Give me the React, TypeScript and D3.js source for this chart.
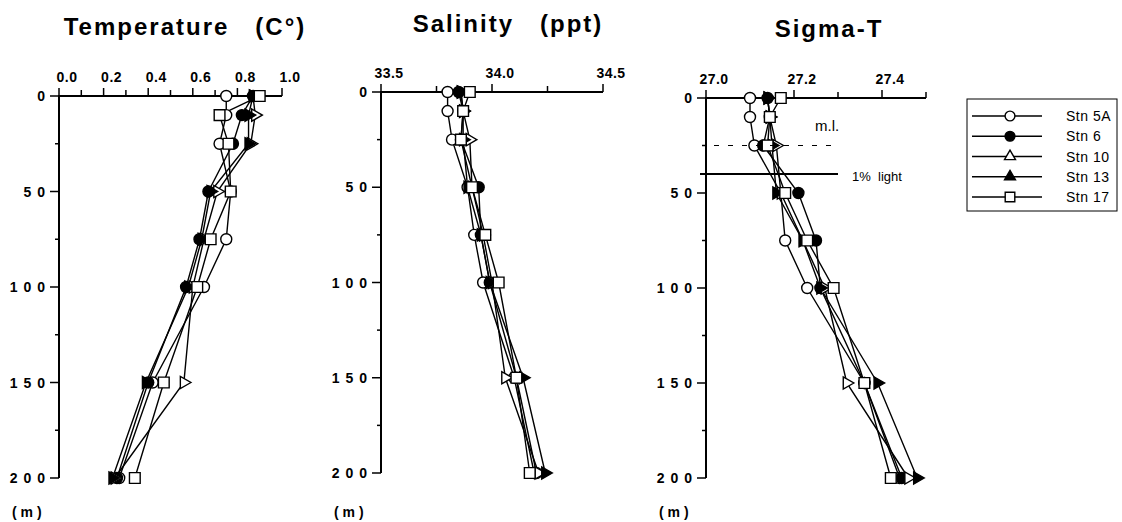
import React, { useEffect, useRef } from 'react';
import * as d3 from 'd3';

// sampling depths (m) and stations
const depths = [0, 10, 25, 50, 75, 100, 150, 200];
const stations = ['Stn 5A', 'Stn 6', 'Stn 10', 'Stn 13', 'Stn 17'];

// depth axis
const depthTicks = [0, 25, 50, 75, 100, 125, 150, 175, 200];
const depthLabelValues = [0, 50, 100, 150, 200];
const depthLabels = ['0', '5 0', '1 0 0', '1 5 0', '2 0 0'];

// temperature (C)
const temp5A = [0.75, 0.75, 0.72, 0.77, 0.75, 0.65, 0.42, 0.27];
const temp6 = [0.87, 0.82, 0.78, 0.67, 0.63, 0.57, 0.40, 0.26];
const temp10 = [0.87, 0.88, 0.86, 0.71, 0.65, 0.60, 0.56, 0.25];
const temp13 = [0.87, 0.85, 0.85, 0.68, 0.64, 0.58, 0.39, 0.24];
const temp17 = [0.90, 0.72, 0.76, 0.77, 0.68, 0.62, 0.47, 0.34];
const tempTicks = [0, 0.1, 0.2, 0.3, 0.4, 0.5, 0.6, 0.7, 0.8, 0.9, 1.0];
const tempLabels = [0, 0.2, 0.4, 0.6, 0.8, 1.0];

// salinity (ppt)
const sal5A = [33.80, 33.80, 33.82, 33.89, 33.92, 33.96, 34.10, 34.19];
const sal6 = [33.85, 33.87, 33.86, 33.94, 33.95, 33.99, 34.11, 34.20];
const sal10 = [33.86, 33.87, 33.90, 33.91, 33.96, 34.00, 34.06, 34.21];
const sal13 = [33.86, 33.87, 33.87, 33.89, 33.95, 33.99, 34.14, 34.24];
const sal17 = [33.90, 33.87, 33.86, 33.91, 33.97, 34.03, 34.11, 34.17];
const salTicks = [33.5, 33.75, 34.0, 34.25, 34.5];
const salLabels = [33.5, 34.0, 34.5];

// sigma-t
const sig5A = [27.10, 27.10, 27.11, 27.17, 27.18, 27.23, 27.36, 27.44];
const sig6 = [27.14, 27.145, 27.13, 27.21, 27.25, 27.26, 27.36, 27.445];
const sig10 = [27.14, 27.145, 27.16, 27.17, 27.22, 27.27, 27.32, 27.46];
const sig13 = [27.14, 27.145, 27.15, 27.16, 27.22, 27.26, 27.39, 27.48];
const sig17 = [27.17, 27.145, 27.14, 27.18, 27.23, 27.29, 27.36, 27.42];
const sigTicks = [27.0, 27.1, 27.2, 27.3, 27.4, 27.5];
const sigLabels = [27.0, 27.2, 27.4];

// annotations on the sigma-t panel
const mixedLayerDepth = 25;
const lightDepth = 40;

const FONT = '"Liberation Sans", Arial, Helvetica, sans-serif';

const panels = [
  { title: 'Temperature   (C°)', titleX: 185, titleY: 35, x0: 59, x1: 282, y0: 96, y1: 478,
    domain: [0, 1], ticks: tempTicks, labels: tempLabels,
    series: [temp5A, temp6, temp10, temp13, temp17] },
  { title: 'Salinity   (ppt)', titleX: 508, titleY: 32, x0: 381, x1: 603, y0: 92, y1: 473,
    domain: [33.5, 34.5], ticks: salTicks, labels: salLabels,
    series: [sal5A, sal6, sal10, sal13, sal17] },
  { title: 'Sigma-T', titleX: 829, titleY: 37, x0: 706, x1: 926, y0: 98, y1: 478,
    domain: [27.0, 27.5], ticks: sigTicks, labels: sigLabels,
    series: [sig5A, sig6, sig10, sig13, sig17] },
];

// marker look per station
const markerStyle = [
  { type: d3.symbolCircle, size: 95, fill: 'white' },
  { type: d3.symbolCircle, size: 95, fill: 'black' },
  { type: d3.symbolTriangle, size: 65, fill: 'white' },
  { type: d3.symbolTriangle, size: 65, fill: 'black' },
  { type: d3.symbolSquare, size: 115, fill: 'white' },
];

function drawPanel(svg, p, idx) {
  const x = d3.scaleLinear().domain(p.domain).range([p.x0, p.x1]);
  const y = d3.scaleLinear().domain([0, 200]).range([p.y0, p.y1]);
  const g = svg.append('g');

  g.append('text')
    .attr('x', p.titleX).attr('y', p.titleY)
    .attr('text-anchor', 'middle')
    .style('font', `bold 24px ${FONT}`)
    .style('letter-spacing', '2px')
    .style('white-space', 'pre')
    .text(p.title);

  // top axis
  g.append('line')
    .attr('x1', p.x0).attr('x2', p.x1).attr('y1', p.y0).attr('y2', p.y0)
    .attr('stroke', 'black').attr('stroke-width', 2);
  g.selectAll('.xt').data(p.ticks).enter().append('line')
    .attr('x1', (d) => x(d)).attr('x2', (d) => x(d))
    .attr('y1', p.y0).attr('y2', (d) => p.y0 - (p.labels.some((l) => Math.abs(l - d) < 1e-6) ? 8 : 6))
    .attr('stroke', 'black').attr('stroke-width', 1.5);
  g.selectAll('.xl').data(p.labels).enter().append('text')
    .attr('x', (d) => x(d) + 8).attr('y', p.y0 - 14)
    .attr('text-anchor', 'middle')
    .style('font', `bold 14px ${FONT}`)
    .style('letter-spacing', '0.5px')
    .text((d) => d3.format('.1f')(d));

  // left depth axis
  g.append('line')
    .attr('x1', p.x0).attr('x2', p.x0).attr('y1', p.y0 - 1).attr('y2', p.y1)
    .attr('stroke', 'black').attr('stroke-width', 2);
  g.selectAll('.yt').data(depthTicks).enter().append('line')
    .attr('x1', p.x0).attr('x2', (d) => p.x0 - (d % 50 === 0 ? 9 : 4))
    .attr('y1', (d) => y(d)).attr('y2', (d) => y(d))
    .attr('stroke', 'black').attr('stroke-width', 1.5);
  g.selectAll('.yl').data(depthLabelValues).enter().append('text')
    .attr('x', p.x0 - 13).attr('y', (d) => y(d) + 5)
    .attr('text-anchor', 'end')
    .style('font', `bold 14px ${FONT}`)
    .style('white-space', 'pre')
    .style('letter-spacing', '1px')
    .text((d, i) => depthLabels[i]);
  g.append('text')
    .attr('x', p.x0 - 47).attr('y', 517)
    .style('font', `bold 14px ${FONT}`)
    .style('white-space', 'pre')
    .text('( m )');

  // profiles
  const line = d3.line().x((d) => x(d[0])).y((d) => y(d[1]));
  p.series.forEach((s) => {
    g.append('path')
      .datum(s.map((v, i) => [v, depths[i]]))
      .attr('d', line)
      .attr('fill', 'none').attr('stroke', 'black').attr('stroke-width', 1.4);
  });
  p.series.forEach((s, si) => {
    const m = markerStyle[si];
    const rot = m.type === d3.symbolTriangle ? 90 : 0;
    g.selectAll(`.m${si}`).data(s).enter().append('path')
      .attr('d', d3.symbol().type(m.type).size(m.size))
      .attr('transform', (d, i) => `translate(${x(d)},${y(depths[i])}) rotate(${rot})`)
      .attr('fill', m.fill).attr('stroke', 'black').attr('stroke-width', 1.4);
  });

  if (idx === 2) {
    g.append('line')
      .attr('x1', p.x0 + 8).attr('x2', x(27.3))
      .attr('y1', y(mixedLayerDepth)).attr('y2', y(mixedLayerDepth))
      .attr('stroke', 'black').attr('stroke-width', 1)
      .attr('stroke-dasharray', '5,9');
    g.append('text')
      .attr('x', 815).attr('y', y(mixedLayerDepth) - 15)
      .style('font', `15px ${FONT}`)
      .text('m.l.');
    g.append('line')
      .attr('x1', p.x0 - 6).attr('x2', x(27.3))
      .attr('y1', y(lightDepth)).attr('y2', y(lightDepth))
      .attr('stroke', 'black').attr('stroke-width', 2);
    g.append('text')
      .attr('x', 852).attr('y', y(lightDepth) + 7)
      .style('font', `13px ${FONT}`)
      .style('white-space', 'pre')
      .text('1%  light');
  }
}

function drawLegend(svg) {
  const lg = svg.append('g');
  const rowY = d3.scalePoint().domain(stations).range([116, 197]);
  lg.append('rect')
    .attr('x', 967).attr('y', 99).attr('width', 150).attr('height', 112)
    .attr('fill', 'white').attr('stroke', 'black').attr('stroke-width', 1);
  stations.forEach((s, i) => {
    const m = markerStyle[i];
    const yy = rowY(s);
    lg.append('line')
      .attr('x1', 972).attr('x2', 1042).attr('y1', yy).attr('y2', yy)
      .attr('stroke', 'black').attr('stroke-width', 1.4);
    lg.append('path')
      .attr('d', d3.symbol().type(m.type).size(m.size * 0.8))
      .attr('transform', `translate(1010,${yy})`)
      .attr('fill', m.fill).attr('stroke', 'black').attr('stroke-width', 1.4);
    lg.append('text')
      .attr('x', 1066).attr('y', yy + 5)
      .style('font', `14px ${FONT}`)
      .style('letter-spacing', '0.5px')
      .text(s);
  });
}

export default function App() {
  const ref = useRef(null);

  useEffect(() => {
    const svg = d3.select(ref.current);
    svg.selectAll('*').remove();
    panels.forEach((p, i) => drawPanel(svg, p, i));
    drawLegend(svg);
  }, []);

  return (
    <svg
      ref={ref}
      width={1122}
      height={522}
      style={{ position: 'absolute', left: 0, top: 0, background: 'white', display: 'block' }}
    />
  );
}
